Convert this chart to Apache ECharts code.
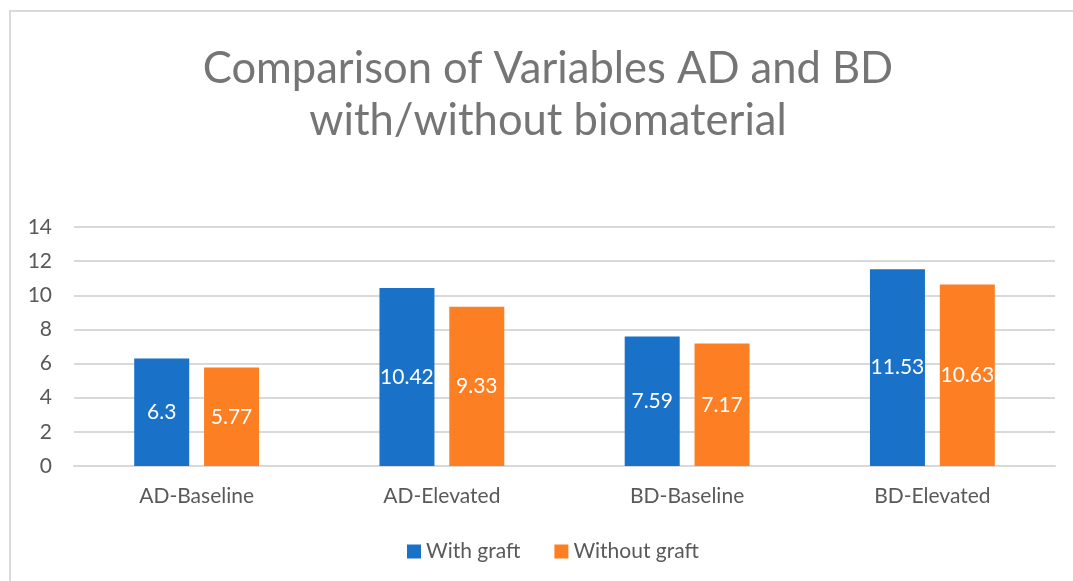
<!DOCTYPE html>
<html>
<head>
<meta charset="utf-8">
<script src="https://cdn.jsdelivr.net/npm/echarts@6/dist/echarts.min.js"></script>
<style>html,body{margin:0;padding:0;background:#fff}#c{width:1073px;height:581px}</style>
</head>
<body>
<div id="c"></div>
<script>
const categories = ['AD-Baseline', 'AD-Elevated', 'BD-Baseline', 'BD-Elevated'];
const withGraft = [6.3, 10.42, 7.59, 11.53];
const withoutGraft = [5.77, 9.33, 7.17, 10.63];
const seriesNames = ['With graft', 'Without graft'];
const titleText = 'Comparison of Variables AD and BD\nwith/without biomaterial';

const FONT = 'Lato';
const chart = echarts.init(document.getElementById('c'), null, {renderer: 'canvas'});
const labelStyle = {show: true, position: 'inside', color: '#ffffff', fontSize: 21, fontFamily: FONT};
chart.setOption({
  animation: false,
  graphic: [{type: 'rect', shape: {x: 10, y: 11, width: 1200, height: 700}, style: {fill: 'none', stroke: '#d9d9d9', lineWidth: 2}}],
  title: {
    text: titleText, left: 543, textAlign: 'center', top: 38,
    textStyle: {fontFamily: FONT, fontSize: 43.5, fontWeight: 'normal', color: '#757575', lineHeight: 52}
  },
  legend: {
    bottom: 14, left: 402, itemWidth: 14, itemHeight: 14, itemGap: 34, icon: 'rect',
    textStyle: {fontFamily: FONT, fontSize: 21, color: '#595959'},
    data: seriesNames
  },
  grid: {left: 74, right: 18, top: 227, bottom: 115, containLabel: false},
  xAxis: {
    type: 'category', data: categories,
    axisLine: {lineStyle: {color: '#d9d9d9', width: 2}},
    axisTick: {show: false},
    axisLabel: {fontFamily: FONT, fontSize: 21, color: '#595959', margin: 20}
  },
  yAxis: {
    type: 'value', min: 0, max: 14, interval: 2,
    axisLine: {show: false}, axisTick: {show: false},
    splitLine: {lineStyle: {color: '#d9d9d9', width: 2}},
    axisLabel: {fontFamily: FONT, fontSize: 21, color: '#595959', margin: 22}
  },
  series: [
    {name: seriesNames[0], type: 'bar', data: withGraft, barWidth: 55, barGap: '27%', itemStyle: {color: '#1971c8'}, label: labelStyle},
    {name: seriesNames[1], type: 'bar', data: withoutGraft, barWidth: 55, itemStyle: {color: '#fd7f23'}, label: labelStyle}
  ]
});
</script>
</body>
</html>
